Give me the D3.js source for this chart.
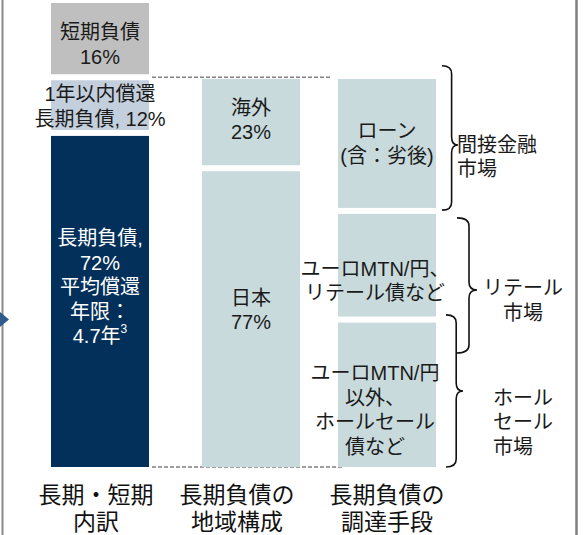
<!DOCTYPE html>
<html>
<head>
<meta charset="utf-8">
<script src="https://cdn.jsdelivr.net/npm/d3@7"></script>
<style>
  body { margin: 0; background: #fff; }
  svg text { font-family: "Liberation Sans", Arial, "Noto Sans CJK JP", sans-serif; }
</style>
</head>
<body>
<svg id="chart"></svg>
<script>
// column titles (two lines each)
var columnTitles = [["長期・短期", "内訳"], ["長期負債の", "地域構成"], ["長期負債の", "調達手段"]];

// column 1 : short / long term split, top to bottom
var termLabels = [["短期負債", "16%"], ["1年以内償還", "長期負債, 12%"], ["長期負債,", "72%", "平均償還", "年限：", "4.7年"]];
var termValues = [16, 12, 72];
var termNote = "3";

// column 2 : regional split of long term debt
var regionLabels = [["海外", "23%"], ["日本", "77%"]];
var regionValues = [23, 77];

// column 3 : funding instruments of long term debt (no values printed)
var fundLabels = [["ローン", "(含：劣後)"], ["ユーロMTN/円、", "リテール債など"], ["ユーロMTN/円", "以外、", "ホールセール", "債など"]];
var fundValues = [34, 28, 38];

// market braces on the right, in % of column 3 (0 = top)
var braceLabels = [["間接金融", "市場"], ["リテール", "市場"], ["ホール", "セール", "市場"]];
var braceFrom = [-3.4, 35.8, 60.8];
var braceTo = [33.8, 70.6, 100];
var braceTip = [17, 54.4, 80.4];

// ---- layout / style ----
var width = 583, height = 535
    barW = 98, gap = 6, lh = 24.5

var termColors = ["#bfbfbf", "#c4cfdd", "#02305a"]
var termText = ["#1a1a1a", "#1a1a1a", "#ffffff"]
var lightCol = "#c9dadd"

var svg = d3.select("#chart")
    .attr("width", width)
    .attr("height", height)

var x = d3.scaleOrdinal().domain([0, 1, 2]).range([51, 202, 338])
var yTerm = d3.scaleLinear().domain([0, 100]).range([3, 467])
var yLong = d3.scaleLinear().domain([0, 100]).range([79, 467])

function stack(values) {
  var cum = 0
  return values.map(function(v, i) {
    var s = cum
    cum += v
    return {i: i, start: s, end: cum}
  })
}

// frame lines
svg.append("line").attr("x1", 2.5).attr("x2", 2.5).attr("y1", 0).attr("y2", height)
    .attr("stroke", "#8a8a8a").attr("stroke-width", 2)
svg.append("line").attr("x1", 576.5).attr("x2", 576.5).attr("y1", 0).attr("y2", height)
    .attr("stroke", "#7f7f7f").attr("stroke-width", 2.5)
svg.append("path").attr("d", "M0,312L9,319.5L0,327Z").attr("fill", "#2e5b8a")

// dashed guides linking the long term part to the other columns
svg.append("line")
    .attr("x1", x(0) + barW + 3).attr("x2", x(2) - 8)
    .attr("y1", yTerm(termValues[0])).attr("y2", yTerm(termValues[0]))
    .attr("stroke", "#808080").attr("stroke-width", 1.5).attr("stroke-dasharray", "4,2")
svg.append("line")
    .attr("x1", x(0) + barW + 3).attr("x2", x(2) + 4)
    .attr("y1", yTerm(100)).attr("y2", yTerm(100))
    .attr("stroke", "#808080").attr("stroke-width", 1.5).attr("stroke-dasharray", "4,2")

function drawColumn(col, values, labels, y, colors, textColors, dxs, dys) {
  var segs = stack(values)
  var g = svg.append("g")
  g.selectAll("rect")
    .data(segs)
    .enter()
    .append("rect")
      .attr("x", x(col))
      .attr("width", barW)
      .attr("y", function(d) { return y(d.start) + (d.start > 0 ? gap / 2 : 0) })
      .attr("height", function(d) {
        return y(d.end) - (d.end < 100 ? gap / 2 : 0) - y(d.start) - (d.start > 0 ? gap / 2 : 0)
      })
      .attr("fill", function(d) { return colors[d.i] })

  segs.forEach(function(d) {
    var top = y(d.start) + (d.start > 0 ? gap / 2 : 0)
    var bot = y(d.end) - (d.end < 100 ? gap / 2 : 0)
    var cy = (top + bot) / 2 + dys[d.i]
    var lines = labels[d.i]
    lines.forEach(function(t, k) {
      g.append("text")
        .attr("x", x(col) + barW / 2 + dxs[d.i])
        .attr("y", cy + (k - (lines.length - 1) / 2) * lh)
        .attr("text-anchor", "middle")
        .attr("dominant-baseline", "central")
        .style("font-size", "20px")
        .attr("fill", textColors[d.i])
        .text(t)
    })
  })
  return g
}

var g1 = drawColumn(0, termValues, termLabels, yTerm, termColors, termText, [0, 0, 0], [6, 1.5, -14])
// footnote marker on the last line
g1.select("text:last-of-type")
  .append("tspan").attr("dy", -7).style("font-size", "12px").text(termNote)

drawColumn(1, regionValues, regionLabels, yLong, [lightCol, lightCol], ["#1a1a1a", "#1a1a1a"], [0, 0], [-2, -9])
drawColumn(2, fundValues, fundLabels, yLong, [lightCol, lightCol, lightCol], ["#1a1a1a", "#1a1a1a", "#1a1a1a"], [0, -12, -12], [0, 16, 15])

// braces
var braceX = [442, 457, 446], braceW = [16, 20, 17]
var braceTextX = [457, 523, 493], braceAnchor = ["start", "middle", "start"]
var braceTextDy = [0, -2, 7]

function bracePath(x0, w, y0, y1, yt) {
  var xm = x0 + w * 0.6, r = 8, p = d3.path()
  p.moveTo(x0, y0)
  p.quadraticCurveTo(xm, y0, xm, y0 + r)
  p.lineTo(xm, yt - r)
  p.quadraticCurveTo(xm, yt, x0 + w, yt)
  p.quadraticCurveTo(xm, yt, xm, yt + r)
  p.lineTo(xm, y1 - r)
  p.quadraticCurveTo(xm, y1, x0, y1)
  return p.toString()
}

braceLabels.forEach(function(lines, i) {
  svg.append("path")
    .attr("d", bracePath(braceX[i], braceW[i], yLong(braceFrom[i]), yLong(braceTo[i]), yLong(braceTip[i])))
    .attr("fill", "none")
    .attr("stroke", "#111")
    .attr("stroke-width", 1.6)
  lines.forEach(function(t, k) {
    svg.append("text")
      .attr("x", braceTextX[i])
      .attr("y", yLong(braceTip[i]) + braceTextDy[i] + k * lh)
      .attr("text-anchor", braceAnchor[i])
      .attr("dominant-baseline", "central")
      .style("font-size", "20px")
      .attr("fill", "#1a1a1a")
      .text(t)
  })
})

// column titles
var titleDx = [-4, -14, 0]
columnTitles.forEach(function(lines, i) {
  lines.forEach(function(t, k) {
    svg.append("text")
      .attr("x", x(i) + barW / 2 + titleDx[i])
      .attr("y", 495 + k * 27)
      .attr("text-anchor", "middle")
      .attr("dominant-baseline", "central")
      .style("font-size", "23px")
      .attr("fill", "#111")
      .text(t)
  })
})
</script>
</body>
</html>
